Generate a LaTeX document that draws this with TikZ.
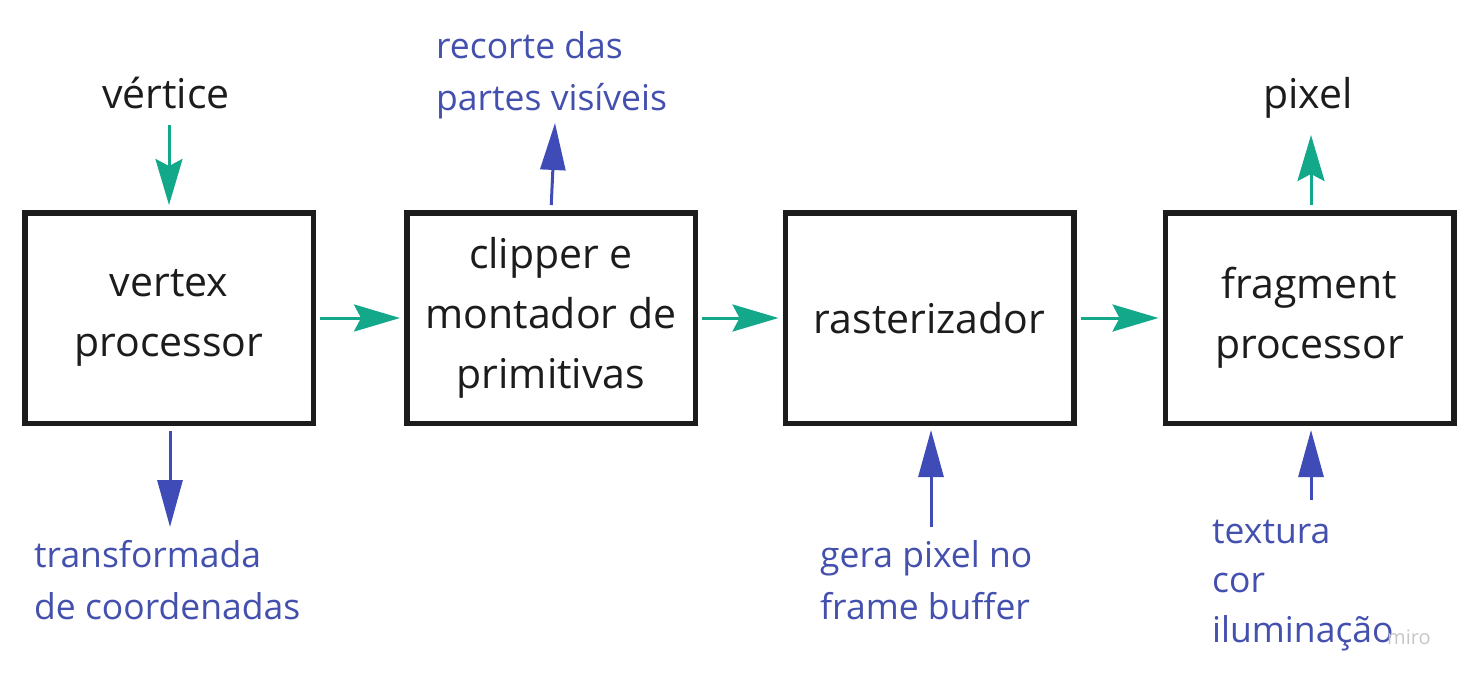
\documentclass[tikz,border=0pt]{standalone}
\usepackage{fontspec}
\setmainfont{Open Sans}
\usetikzlibrary{arrows.meta}
\definecolor{tealc}{HTML}{14A88B}
\definecolor{bluec}{HTML}{3F4BB6}
\definecolor{bluet}{HTML}{4450AE}
\definecolor{blk}{HTML}{1C1C1C}
\tikzset{
  stagebox/.style={draw=blk, line width=5.5pt, minimum width=288.5pt, minimum height=210.5pt,
    align=center, inner sep=0pt, text=blk, font=\fontsize{41}{60}\selectfont},
  bigtext/.style={text=blk, inner sep=0pt, font=\fontsize{41}{60}\selectfont},
  bluetext/.style={text=bluet, inner sep=0pt, align=left, anchor=base west,
    font=\fontsize{35.5}{52}\selectfont},
  tealarrow/.style={draw=tealc, line width=3pt, -{Stealth[length=46pt,width=27pt,inset=7pt]}},
  bluearrow/.style={draw=bluec, line width=3pt, -{Triangle[length=47pt,width=25pt]}}
}
\begin{document}
\begin{tikzpicture}[x=1pt,y=-1pt]
\useasboundingbox (0,0) rectangle (1467,681);
% boxes
\node[stagebox] (b1) at (169,318) {vertex\\processor};
\node[stagebox] (b2) at (551,318) {clipper e\\montador de\\primitivas};
\node[stagebox] (b3) at (929.5,318) {rasterizador};
\node[stagebox] (b4) at (1309.5,318) {fragment\\processor};
% labels
\node[bigtext, anchor=base] (vtx) at (166,108) {vértice};
\node[bigtext, anchor=base] (pix) at (1308,108) {pixel};
\node[bluetext] (rec) at (436,110) {recorte das\\partes visíveis};
\node[bluetext] (trans) at (34,619) {transformada\\de coordenadas};
\node[bluetext] (gera) at (820,619) {gera pixel no\\frame buffer};
\node[bluetext, font=\fontsize{35.5}{49.5}\selectfont] (tex) at (1212,642) {textura\\cor\\iluminação};
\node[text=gray!45, inner sep=0pt, anchor=base west, font=\fontsize{20}{24}\selectfont] (miro) at (1387,644) {miro};
% coordinates for free ends
\coordinate (vtxend) at (169,125);
\coordinate (pixtip) at (1311,135);
\coordinate (transtip) at (170,527);
\coordinate (rectip) at (555,123);
\coordinate (gerastart) at (931,527);
\coordinate (texstart) at (1311,500);
% teal arrows
\draw[tealarrow, shorten <=4pt, shorten >=4pt] (b1.east) -- (b2.west);
\draw[tealarrow, shorten <=4pt, shorten >=4pt] (b2.east) -- (b3.west);
\draw[tealarrow, shorten <=4pt, shorten >=4pt] (b3.east) -- (b4.west);
\draw[tealarrow, shorten >=5pt] (vtxend) -- (b1.north -| vtxend);
\draw[tealarrow, shorten <=5pt] (b4.north -| pixtip) -- (pixtip);
% blue arrows
\draw[bluearrow, shorten <=5pt] (b1.south -| transtip) -- (transtip);
\draw[bluearrow, shorten <=5pt] (b2.north) -- (rectip);
\draw[bluearrow, shorten >=4pt] (gerastart) -- (b3.south -| gerastart);
\draw[bluearrow, shorten >=4pt] (texstart) -- (b4.south -| texstart);
\end{tikzpicture}
\end{document}
